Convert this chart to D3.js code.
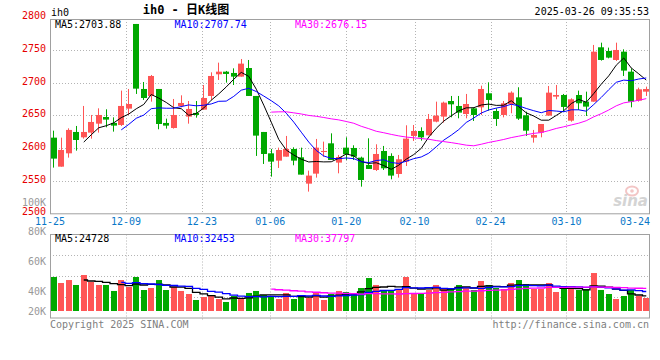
<!DOCTYPE html>
<html><head><meta charset="utf-8">
<script src="https://cdn.jsdelivr.net/npm/d3@7"></script>
<style>
body{margin:0;background:#fff}
svg{display:block}
text{font-family:"DejaVu Sans Mono","Liberation Mono",monospace;font-size:10px}
</style>
</head><body>
<svg id="chart" width="660" height="360"></svg>
<script>
// ---------------- DATA ----------------
const dates = ["11-25","11-26","11-27","11-28","11-29",
"12-02","12-03","12-04","12-05","12-06","12-09","12-10","12-11","12-12","12-13","12-16","12-17","12-18","12-19","12-20","12-23","12-24","12-25","12-26","12-27","12-30","12-31",
"01-02","01-03","01-06","01-07","01-08","01-09","01-10","01-13","01-14","01-15","01-16","01-17","01-20","01-21","01-22","01-23","01-24","01-27",
"02-05","02-06","02-07","02-10","02-11","02-12","02-13","02-14","02-17","02-18","02-19","02-20","02-21","02-24","02-25","02-26","02-27","02-28",
"03-03","03-04","03-05","03-06","03-07","03-10","03-11","03-12","03-13","03-14","03-17","03-18","03-19","03-20","03-21","03-24","03-25"];

const opens = [2615.8,2571.4,2591.8,2624.5,2616.3,2623.5,2637.2,2647.4,2638.3,2635.2,
2660.2,2789.8,2690.3,2679.6,2690.3,2638.3,2630.6,2664.3,2648.0,2653.6,
2658.7,2679.6,2712.8,2716.8,2714.8,2709.2,2722.4,2679.6,2624.5,2591.8,
2580.6,2586.7,2598.5,2585.7,2545.4,2560.7,2593.9,2607.1,2577.6,2600.5,
2600.0,2585.2,2574.0,2566.3,2595.4,2587.8,2560.2,2579.1,2618.4,2626.0,
2619.4,2640.3,2648.0,2671.9,2664.3,2652.0,2660.7,2662.2,2683.7,2656.6,
2650.5,2667.3,2677.5,2650.0,2615.8,2623.5,2649.5,2678.6,2681.1,2641.8,
2681.1,2670.9,2670.9,2754.1,2748.5,2734.7,2747.4,2716.8,2672.5,2686.2];

const highs = [2626.5,2615.8,2630.1,2633.7,2664.3,2650.5,2660.7,2659.2,2646.9,2687.8,
2690.3,2789.8,2701.0,2711.7,2690.3,2644.9,2675.0,2680.6,2671.9,2671.9,
2696.4,2715.8,2730.6,2717.9,2721.9,2736.2,2734.7,2679.6,2624.5,2598.5,
2600.5,2618.4,2601.0,2600.5,2565.3,2613.8,2609.7,2622.4,2589.3,2616.3,
2604.1,2586.7,2614.8,2605.6,2603.1,2591.8,2589.3,2634.7,2635.2,2631.6,
2652.0,2670.9,2670.9,2679.6,2679.6,2682.7,2662.2,2695.4,2700.5,2660.7,
2671.9,2686.7,2692.9,2655.6,2627.6,2636.7,2694.9,2696.4,2682.7,2676.0,
2687.8,2686.2,2757.7,2761.2,2753.6,2761.2,2751.0,2721.9,2692.3,2693.9];

const lows = [2569.9,2571.4,2585.2,2595.9,2614.3,2614.3,2623.5,2631.6,2625.0,2633.7,
2650.5,2682.7,2673.5,2670.9,2628.6,2629.6,2629.6,2662.2,2637.2,2646.4,
2658.2,2673.5,2704.1,2700.0,2696.4,2709.2,2679.6,2587.8,2575.5,2556.1,
2569.4,2586.7,2573.5,2559.2,2533.2,2554.6,2586.7,2581.6,2561.2,2581.6,
2581.6,2540.8,2567.9,2564.8,2566.3,2552.0,2554.6,2572.4,2610.7,2611.2,
2619.4,2639.3,2638.8,2646.9,2645.4,2645.4,2641.3,2650.5,2657.1,2633.7,
2646.9,2653.1,2642.9,2618.4,2608.2,2616.3,2649.5,2674.5,2655.6,2640.3,
2658.2,2649.0,2670.9,2733.7,2737.2,2733.2,2710.2,2662.2,2670.9,2679.6];

const closes = [2583.7,2596.9,2627.6,2612.2,2624.5,2639.8,2650.5,2643.4,2634.2,2664.3,
2667.3,2690.8,2676.5,2710.2,2636.7,2634.2,2650.5,2668.9,2659.7,2650.5,
2676.5,2710.2,2716.8,2713.3,2709.2,2729.1,2679.6,2618.9,2590.8,2579.1,
2596.9,2598.5,2580.6,2559.2,2557.7,2600.5,2595.4,2581.6,2586.2,2590.3,
2586.7,2551.0,2567.9,2590.8,2568.9,2557.7,2582.7,2614.3,2626.0,2616.3,
2644.4,2649.5,2669.4,2666.8,2654.1,2667.3,2650.5,2690.3,2673.5,2644.4,
2668.4,2684.7,2644.9,2626.5,2619.9,2636.7,2684.7,2681.1,2662.8,2674.5,
2668.4,2663.3,2747.4,2734.7,2738.3,2750.0,2718.4,2670.9,2689.8,2690.3];

const volumes = [56200,46300,51200,43000,59500,47900,43000,43000,33100,51200,
39700,56200,34700,38000,51200,34700,39700,33100,28100,18200,
23100,24800,19800,14900,24800,19800,29800,33100,26400,24800,
19800,29800,19800,24800,21500,29800,18200,28100,33100,31400,
28100,38000,54500,43000,34700,33100,34700,56200,29800,28100,
34700,43000,36400,38000,43000,38000,34700,49600,43000,38000,
36400,46300,51200,44600,36400,36400,46300,31400,36400,36400,
34700,36400,62800,34700,28100,19800,24800,34700,24800,21500];

const xLabels = ["11-25","12-09","12-23","01-06","01-20","02-10","02-24","03-10","03-24"];
const priceTicks = [2800,2750,2700,2650,2600,2550,2500];
const priceGrid = [2750,2700,2650,2600,2550];
const volTicks = [100000,80000,60000,40000,20000];
const priceMALabels = ["MA5:2703.88","MA10:2707.74","MA30:2676.15"];
const volMALabels = ["MA5:24728","MA10:32453","MA30:37797"];
const maPeriods = [5,10,30];
const maColors = ["#000000","#0000ff","#ff00ff"];
const UP = "#ff5555", DOWN = "#00a800";

// ---------------- LAYOUT ----------------
const svg = d3.select("#chart");
const L = 50, R = 650;
const mainTop = 19, mainBot = 213.3;
const volTop = 234.5, volBot = 318, volBase = 311;

const x = d3.scaleBand().domain(dates).range([L, R]).paddingInner(0.2).paddingOuter(0.1);
const xg = d3.scalePoint().domain(dates).range([L, R]);
const bw = x.bandwidth();
const cx = d => x(d) + bw / 2;

const y = d3.scaleLinear().domain([2500, 2800]).range([mainBot, mainBot - 300 * 0.6533]);
const yv = d3.scaleLinear().domain([0, 127300]).range([volBase, 234]);
const yvLab = d3.scaleLinear().domain([40000, 80000]).range([291, 231.8]);

function movingAvg(arr, n) {
  const out = [];
  for (let i = n - 1; i < arr.length; i++) {
    out.push({i, v: d3.mean(arr.slice(i - n + 1, i + 1))});
  }
  return out;
}

const gridColor = "#b4b4b4", borderColor = "#a0a0a0";

// ---------- grid lines ----------
const gridDates = xLabels.filter(d => xg(d) > L + 2 && xg(d) < R - 10);
svg.append("g").selectAll("line").data(gridDates).join("line")
  .attr("x1", d => Math.round(xg(d)) + 0.5).attr("x2", d => Math.round(xg(d)) + 0.5)
  .attr("y1", mainTop).attr("y2", mainBot)
  .attr("stroke", gridColor).attr("stroke-dasharray", "1,2");
svg.append("g").selectAll("line").data(priceGrid).join("line")
  .attr("x1", L).attr("x2", R)
  .attr("y1", d => Math.round(y(d)) + 0.5).attr("y2", d => Math.round(y(d)) + 0.5)
  .attr("stroke", gridColor).attr("stroke-dasharray", "1,2");
// volume grid
svg.append("g").selectAll("line").data(gridDates).join("line")
  .attr("x1", d => Math.round(xg(d)) + 0.5).attr("x2", d => Math.round(xg(d)) + 0.5)
  .attr("y1", volTop).attr("y2", volBot + 2)
  .attr("stroke", gridColor).attr("stroke-dasharray", "1,2");
svg.append("g").selectAll("line").data([1,2,3]).join("line")
  .attr("x1", L).attr("x2", R)
  .attr("y1", k => Math.round(volTop + k * (volBot - volTop) / 4) + 0.5)
  .attr("y2", k => Math.round(volTop + k * (volBot - volTop) / 4) + 0.5)
  .attr("stroke", gridColor).attr("stroke-dasharray", "1,2");

// ---------- watermark ----------
const wm = svg.append("g");
wm.append("ellipse").attr("cx", 632).attr("cy", 191).attr("rx", 6).attr("ry", 4.5)
  .attr("fill", "none").attr("stroke", "#f3c6c6").attr("stroke-width", 2);
wm.append("circle").attr("cx", 632).attr("cy", 191).attr("r", 1.8).attr("fill", "#f3c6c6");
wm.append("text").attr("x", 648).attr("y", 206).attr("text-anchor", "end")
  .style("font-family", "'DejaVu Sans',sans-serif").style("font-size", "15px")
  .style("font-style", "italic").style("font-weight", "bold")
  .attr("fill", "#d4d4d4").text("sina");

// ---------- candles ----------
const idx = d3.range(dates.length);
const cg = svg.append("g");
cg.selectAll("line").data(idx).join("line")
  .attr("x1", i => Math.floor(cx(dates[i])) + 0.5).attr("x2", i => Math.floor(cx(dates[i])) + 0.5)
  .attr("y1", i => y(highs[i])).attr("y2", i => y(lows[i]))
  .attr("stroke", i => closes[i] >= opens[i] ? UP : DOWN).attr("stroke-width", 1);
cg.selectAll("rect").data(idx).join("rect")
  .attr("x", i => Math.round(x(dates[i]))).attr("width", Math.round(bw))
  .attr("y", i => y(Math.max(opens[i], closes[i])))
  .attr("height", i => Math.max(1, Math.abs(y(opens[i]) - y(closes[i]))))
  .attr("fill", i => closes[i] >= opens[i] ? UP : DOWN);

// ---------- price MAs ----------
maPeriods.forEach((n, k) => {
  const data = movingAvg(closes, n);
  svg.append("path").datum(data)
    .attr("d", d3.line().x(d => cx(dates[d.i])).y(d => y(d.v)))
    .attr("fill", "none").attr("stroke", maColors[k]).attr("stroke-width", 1);
});

// ---------- volume bars ----------
svg.append("g").selectAll("rect").data(idx).join("rect")
  .attr("x", i => Math.round(x(dates[i]))).attr("width", Math.round(bw))
  .attr("y", i => yv(volumes[i])).attr("height", i => volBase - yv(volumes[i]))
  .attr("fill", i => closes[i] >= opens[i] ? UP : DOWN);
maPeriods.forEach((n, k) => {
  const data = movingAvg(volumes, n);
  svg.append("path").datum(data)
    .attr("d", d3.line().curve(d3.curveStep).x(d => cx(dates[d.i])).y(d => yv(d.v)))
    .attr("fill", "none").attr("stroke", maColors[k]).attr("stroke-width", 1.3);
});

// ---------- borders ----------
svg.append("rect").attr("x", L + 0.5).attr("y", mainTop + 0.5).attr("width", R - L - 1).attr("height", mainBot - mainTop)
  .attr("fill", "none").attr("stroke", borderColor);
svg.append("rect").attr("x", L + 0.5).attr("y", volTop).attr("width", R - L - 1).attr("height", volBot - volTop)
  .attr("fill", "none").attr("stroke", borderColor);

// ---------- axes labels ----------
svg.append("g").selectAll("text").data(priceTicks).join("text")
  .attr("x", 46).attr("y", d => Math.max(15.5, y(d) - 1.5)).attr("text-anchor", "end")
  .attr("dominant-baseline", "central").attr("fill", "#e60000").text(d => d);
svg.append("g").selectAll("text").data(volTicks).join("text")
  .attr("x", 46).attr("y", d => Math.min(311, yvLab(d))).attr("text-anchor", "end")
  .attr("dominant-baseline", "central").attr("fill", "#999").text(d => (d / 1000) + "K");
svg.append("g").selectAll("text").data(xLabels).join("text")
  .attr("x", d => Math.min(xg(d), R - 15))
  .attr("y", 221.5).attr("text-anchor", "middle").attr("dominant-baseline", "central")
  .attr("fill", "#0a78c8").text(d => d);

// ---------- header / MA labels ----------
svg.append("text").attr("x", 51).attr("y", 12.5).attr("dominant-baseline", "central").attr("fill", "#000").text("ih0");
svg.append("text").attr("x", 186).attr("y", 9.5).attr("text-anchor", "middle").attr("dominant-baseline", "central")
  .style("font-family", "'DejaVu Sans Mono','Noto Sans CJK SC',monospace").style("font-size", "12px").style("font-weight", "bold")
  .attr("fill", "#000").text("ih0 - 日K线图");
svg.append("text").attr("x", 649).attr("y", 11.5).attr("text-anchor", "end").attr("dominant-baseline", "central")
  .attr("fill", "#000").text("2025-03-26 09:35:53");
const maX = [55, 174.5, 295];
svg.append("g").selectAll("text").data(priceMALabels).join("text")
  .attr("x", (d, k) => maX[k]).attr("y", 24).attr("dominant-baseline", "central")
  .attr("fill", (d, k) => maColors[k]).text(d => d);
svg.append("g").selectAll("text").data(volMALabels).join("text")
  .attr("x", (d, k) => maX[k]).attr("y", 238.5).attr("dominant-baseline", "central")
  .attr("fill", (d, k) => maColors[k]).text(d => d);

// ---------- footer ----------
svg.append("text").attr("x", 50).attr("y", 324).attr("dominant-baseline", "central").attr("fill", "#808080").text("Copyright 2025 SINA.COM");
svg.append("text").attr("x", 649).attr("y", 324).attr("text-anchor", "end").attr("dominant-baseline", "central").attr("fill", "#808080").text("http://finance.sina.com.cn");
</script>
</body></html>
